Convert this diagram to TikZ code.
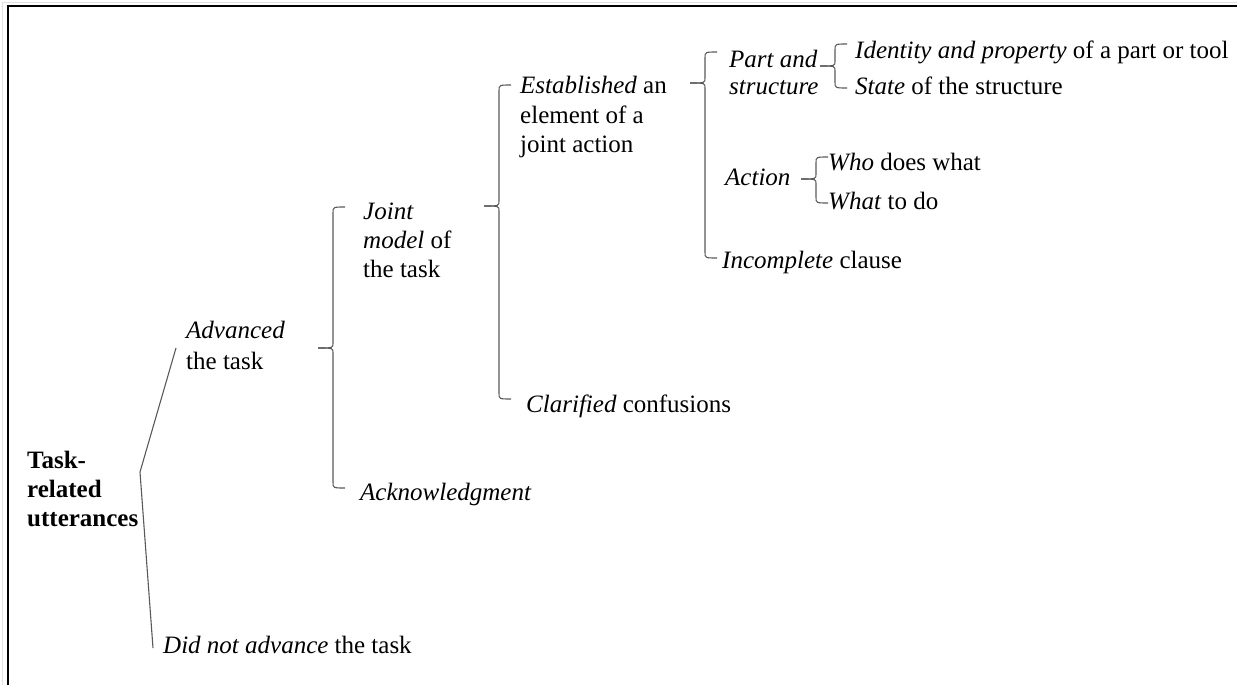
\documentclass[tikz,border=0pt]{standalone}
\usepackage{fontspec}
\setmainfont{Liberation Serif}
\begin{document}
\begin{tikzpicture}[x=1pt,y=-1pt,
  lbl/.style={anchor=base west, inner sep=0pt, font=\fontsize{25}{30}\selectfont},
  root/.style={lbl, font=\fontsize{25}{30}\selectfont\bfseries},
  conn/.style={draw=black!65, line width=1.1pt},
  frame/.style={draw=black, line width=2pt},
]
\useasboundingbox (0,0) rectangle (1237,685);
% page frame
\draw[black!12, line width=0.8pt] (2.5,685) -- (2.5,2.5) -- (1237,2.5);
\draw[frame] (7.5,685) -- (7.5,6.5) -- (1237,6.5);

% brace: #1 x of spine, #2 top, #3 middle tick, #4 bottom
\newcommand\treebrace[4]{%
  \draw[conn] ({#1+12},#2) .. controls (#1,#2) .. (#1,{#2+6}) -- (#1,{#3-5})
      .. controls (#1,#3) .. ({#1-15},#3);
  \draw[conn] ({#1-15},#3) .. controls (#1,#3) .. (#1,{#3+5}) -- (#1,{#4-6})
      .. controls (#1,#4) .. ({#1+12},#4);
}

% labels
\node[root] (tr1) at (27,468) {Task-};
\node[root] (tr2) at (27,497) {related};
\node[root] (tr3) at (27,526) {utterances};

\node[lbl] (adv1) at (186,338) {\textit{Advanced}};
\node[lbl] (adv2) at (186,369) {the task};
\node[lbl] (dna) at (163,653) {\textit{Did not advance} the task};

\node[lbl] (jm1) at (363,219) {\textit{Joint}};
\node[lbl] (jm2) at (363,248) {\textit{model} of};
\node[lbl] (jm3) at (363,277) {the task};
\node[lbl] (ack) at (360,500) {\textit{Acknowledgment}};

\node[lbl] (est1) at (520,93) {\textit{Established} an};
\node[lbl] (est2) at (520,123) {element of a};
\node[lbl] (est3) at (520,152) {joint action};
\node[lbl] (clar) at (526,412) {\textit{Clarified} confusions};

\node[lbl] (ps1) at (729,67) {\textit{Part and}};
\node[lbl] (ps2) at (729,95) {\textit{structure}};
\node[lbl] (act) at (725,185) {\textit{Action}};
\node[lbl] (inc) at (722,268) {\textit{Incomplete} clause};

\node[lbl] (idp) at (855,59) {\textit{Identity and property} of a part or tool};
\node[lbl] (sts) at (855,95) {\textit{State} of the structure};
\node[lbl] (who) at (828,170) {\textit{Who} does what};
\node[lbl] (what) at (828,209) {\textit{What} to do};

% root fork
\coordinate (fork) at (140,472);
\coordinate (advend) at (176,348);
\coordinate (dnaend) at (153,648);
\draw[conn] (advend) -- (fork) -- (dnaend);

% braces
\treebrace{333}{207}{348}{488}
\treebrace{499}{85}{206}{399}
\treebrace{705}{52}{83}{258}
\treebrace{835}{44}{66}{88}
\treebrace{816}{157}{179}{203}
\end{tikzpicture}
\end{document}
